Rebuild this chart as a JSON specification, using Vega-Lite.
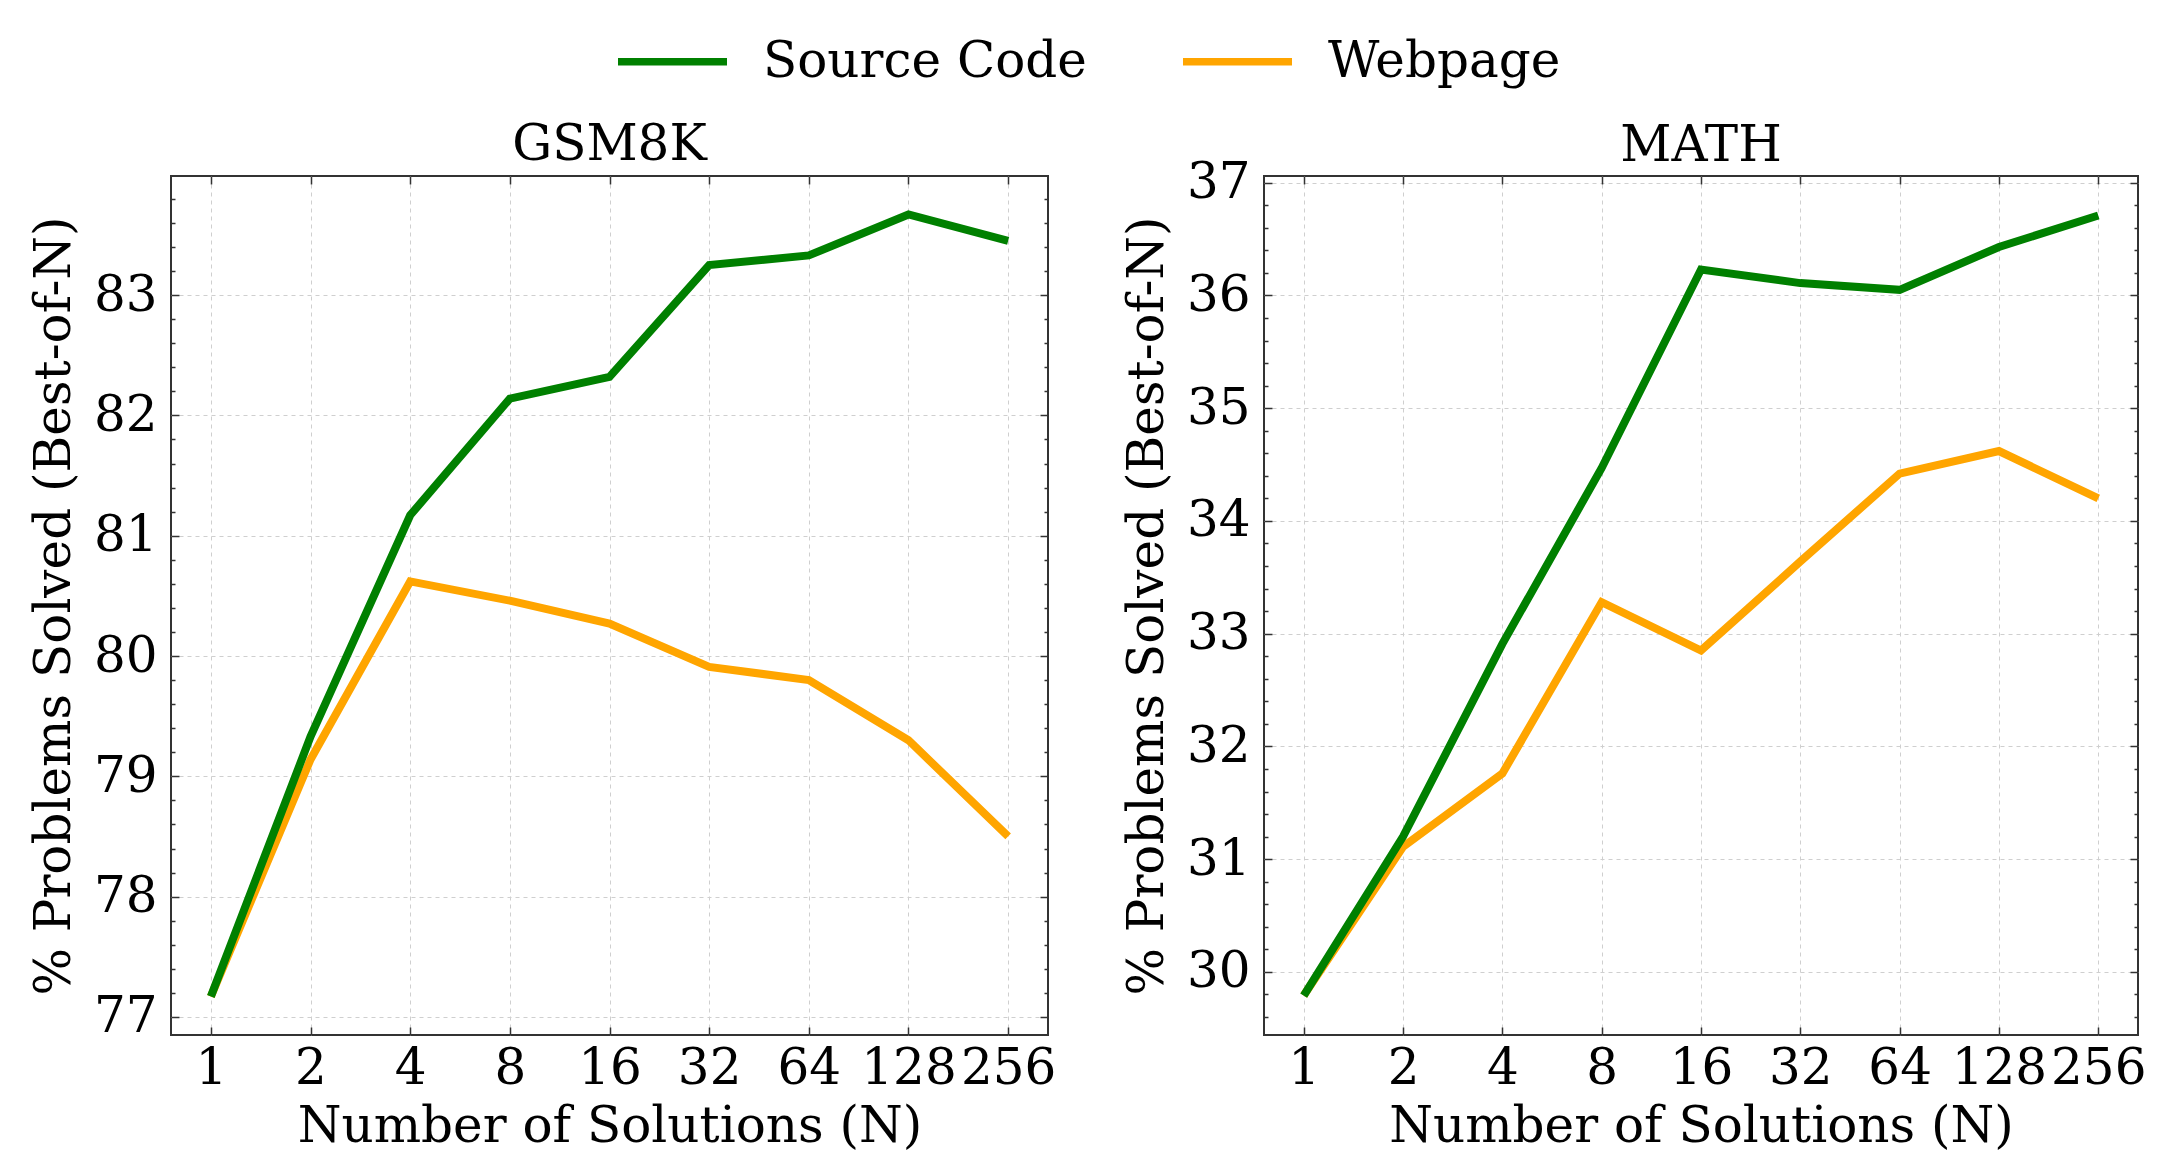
{
  "$schema": "https://vega.github.io/schema/vega-lite/v6.json",
  "padding": {"left": 28, "top": 3, "right": 20, "bottom": 10},
  "spacing": 64,
  "config": {
    "font": "DejaVu Serif, Liberation Serif, serif",
    "view": {"stroke": "#333", "strokeWidth": 2},
    "axis": {
      "labelFont": "DejaVu Serif, Liberation Serif, serif", "labelFontSize": 50, "labelColor": "#000",
      "titleFont": "DejaVu Serif, Liberation Serif, serif", "titleFontSize": 50, "titleFontWeight": "normal", "titleColor": "#000",
      "domain": false, "tickColor": "#333", "tickWidth": 1.5,
      "gridColor": "#cfcfcf", "gridDash": [4, 4], "gridWidth": 1
    },
    "title": {"font": "DejaVu Serif, Liberation Serif, serif", "fontSize": 50, "fontWeight": "normal", "color": "#000"},
    "legend": {
      "orient": "top", "direction": "horizontal", "title": null,
      "symbolType": "stroke", "symbolSize": 11881, "symbolStrokeWidth": 7.5,
      "labelFont": "DejaVu Serif, Liberation Serif, serif", "labelFontSize": 50, "labelColor": "#000", "labelLimit": 1000,
      "labelOffset": 32, "columnPadding": 81, "offset": 32,
      "layout": {"top": {"anchor": "middle"}}
    }
  },
  "datasets": {
    "gsm8k": [
      {"N": 1, "series": "Webpage", "v": 77.17},
      {"N": 2, "series": "Webpage", "v": 79.14},
      {"N": 4, "series": "Webpage", "v": 80.62},
      {"N": 8, "series": "Webpage", "v": 80.46},
      {"N": 16, "series": "Webpage", "v": 80.27},
      {"N": 32, "series": "Webpage", "v": 79.91},
      {"N": 64, "series": "Webpage", "v": 79.8},
      {"N": 128, "series": "Webpage", "v": 79.3},
      {"N": 256, "series": "Webpage", "v": 78.5},
      {"N": 1, "series": "Source Code", "v": 77.17},
      {"N": 2, "series": "Source Code", "v": 79.33},
      {"N": 4, "series": "Source Code", "v": 81.17},
      {"N": 8, "series": "Source Code", "v": 82.14},
      {"N": 16, "series": "Source Code", "v": 82.32},
      {"N": 32, "series": "Source Code", "v": 83.25},
      {"N": 64, "series": "Source Code", "v": 83.33},
      {"N": 128, "series": "Source Code", "v": 83.67},
      {"N": 256, "series": "Source Code", "v": 83.45}
    ],
    "math": [
      {"N": 1, "series": "Webpage", "v": 29.79},
      {"N": 2, "series": "Webpage", "v": 31.11},
      {"N": 4, "series": "Webpage", "v": 31.76},
      {"N": 8, "series": "Webpage", "v": 33.28},
      {"N": 16, "series": "Webpage", "v": 32.85},
      {"N": 32, "series": "Webpage", "v": 33.64},
      {"N": 64, "series": "Webpage", "v": 34.42},
      {"N": 128, "series": "Webpage", "v": 34.62},
      {"N": 256, "series": "Webpage", "v": 34.2},
      {"N": 1, "series": "Source Code", "v": 29.79},
      {"N": 2, "series": "Source Code", "v": 31.2},
      {"N": 4, "series": "Source Code", "v": 32.91},
      {"N": 8, "series": "Source Code", "v": 34.47},
      {"N": 16, "series": "Source Code", "v": 36.23},
      {"N": 32, "series": "Source Code", "v": 36.11},
      {"N": 64, "series": "Source Code", "v": 36.05},
      {"N": 128, "series": "Source Code", "v": 36.43},
      {"N": 256, "series": "Source Code", "v": 36.71}
    ]
  },
  "resolve": {"scale": {"y": "independent"}},
  "hconcat": [
    {
      "width": 877, "height": 859,
      "title": {"text": "GSM8K", "offset": 5},
      "data": {"name": "gsm8k"},
      "resolve": {"axis": {"x": "independent", "y": "independent"}},
      "encoding": {
        "x": {"field": "N", "type": "ordinal", "sort": "ascending", "scale": {"type": "point", "padding": 0.4}},
        "y": {"field": "v", "type": "quantitative", "scale": {"domain": [76.85, 83.99], "nice": false, "zero": false}}
      },
      "layer": [
        {
          "mark": {"type": "line", "strokeWidth": 8},
          "encoding": {
            "x": {"field": "N", "type": "ordinal", "axis": {"orient": "bottom", "title": "Number of Solutions (N)", "labelAngle": 0, "tickSize": -8, "labelPadding": 16, "titlePadding": 8, "grid": true}},
            "y": {"field": "v", "type": "quantitative", "axis": {"orient": "left", "title": "% Problems Solved (Best-of-N)", "values": [77, 78, 79, 80, 81, 82, 83], "tickSize": -8, "labelPadding": 22, "titlePadding": 14, "grid": true}},
            "color": {"field": "series", "type": "nominal", "scale": {"domain": ["Source Code", "Webpage"], "range": ["#008000", "#FFA500"]}}
          }
        },
        {
          "mark": {"type": "line", "opacity": 0},
          "encoding": {
            "x": {"field": "N", "type": "ordinal", "axis": {"orient": "top", "title": null, "labels": false, "tickSize": -8, "grid": false}},
            "y": {"field": "v", "type": "quantitative", "axis": {"orient": "right", "title": null, "labels": false, "values": [77, 78, 79, 80, 81, 82, 83], "tickSize": -8, "grid": false}},
            "detail": {"field": "series"}
          }
        },
        {
          "mark": {"type": "line", "opacity": 0},
          "encoding": {
            "x": {"field": "N", "type": "ordinal", "axis": null},
            "y": {"field": "v", "type": "quantitative", "axis": {"orient": "left", "title": null, "labels": false, "values": [77.2, 77.4, 77.6, 77.8, 78.2, 78.4, 78.6, 78.8, 79.2, 79.4, 79.6, 79.8, 80.2, 80.4, 80.6, 80.8, 81.2, 81.4, 81.6, 81.8, 82.2, 82.4, 82.6, 82.8, 83.2, 83.4, 83.6, 83.8], "tickSize": -4, "grid": false}},
            "detail": {"field": "series"}
          }
        },
        {
          "mark": {"type": "line", "opacity": 0},
          "encoding": {
            "x": {"field": "N", "type": "ordinal", "axis": null},
            "y": {"field": "v", "type": "quantitative", "axis": {"orient": "right", "title": null, "labels": false, "values": [77.2, 77.4, 77.6, 77.8, 78.2, 78.4, 78.6, 78.8, 79.2, 79.4, 79.6, 79.8, 80.2, 80.4, 80.6, 80.8, 81.2, 81.4, 81.6, 81.8, 82.2, 82.4, 82.6, 82.8, 83.2, 83.4, 83.6, 83.8], "tickSize": -4, "grid": false}},
            "detail": {"field": "series"}
          }
        }
      ]
    },
    {
      "width": 874, "height": 859,
      "title": {"text": "MATH", "offset": -13},
      "data": {"name": "math"},
      "resolve": {"axis": {"x": "independent", "y": "independent"}},
      "encoding": {
        "x": {"field": "N", "type": "ordinal", "sort": "ascending", "scale": {"type": "point", "padding": 0.4}},
        "y": {"field": "v", "type": "quantitative", "scale": {"domain": [29.44, 37.06], "nice": false, "zero": false}}
      },
      "layer": [
        {
          "mark": {"type": "line", "strokeWidth": 8},
          "encoding": {
            "x": {"field": "N", "type": "ordinal", "axis": {"orient": "bottom", "title": "Number of Solutions (N)", "labelAngle": 0, "tickSize": -8, "labelPadding": 16, "titlePadding": 8, "grid": true}},
            "y": {"field": "v", "type": "quantitative", "axis": {"orient": "left", "title": "% Problems Solved (Best-of-N)", "values": [30, 31, 32, 33, 34, 35, 36, 37], "tickSize": -8, "labelPadding": 22, "titlePadding": 14, "grid": true}},
            "color": {"field": "series", "type": "nominal", "scale": {"domain": ["Source Code", "Webpage"], "range": ["#008000", "#FFA500"]}}
          }
        },
        {
          "mark": {"type": "line", "opacity": 0},
          "encoding": {
            "x": {"field": "N", "type": "ordinal", "axis": {"orient": "top", "title": null, "labels": false, "tickSize": -8, "grid": false}},
            "y": {"field": "v", "type": "quantitative", "axis": {"orient": "right", "title": null, "labels": false, "values": [30, 31, 32, 33, 34, 35, 36, 37], "tickSize": -8, "grid": false}},
            "detail": {"field": "series"}
          }
        },
        {
          "mark": {"type": "line", "opacity": 0},
          "encoding": {
            "x": {"field": "N", "type": "ordinal", "axis": null},
            "y": {"field": "v", "type": "quantitative", "axis": {"orient": "left", "title": null, "labels": false, "values": [29.6, 29.8, 30.2, 30.4, 30.6, 30.8, 31.2, 31.4, 31.6, 31.8, 32.2, 32.4, 32.6, 32.8, 33.2, 33.4, 33.6, 33.8, 34.2, 34.4, 34.6, 34.8, 35.2, 35.4, 35.6, 35.8, 36.2, 36.4, 36.6, 36.8], "tickSize": -4, "grid": false}},
            "detail": {"field": "series"}
          }
        },
        {
          "mark": {"type": "line", "opacity": 0},
          "encoding": {
            "x": {"field": "N", "type": "ordinal", "axis": null},
            "y": {"field": "v", "type": "quantitative", "axis": {"orient": "right", "title": null, "labels": false, "values": [29.6, 29.8, 30.2, 30.4, 30.6, 30.8, 31.2, 31.4, 31.6, 31.8, 32.2, 32.4, 32.6, 32.8, 33.2, 33.4, 33.6, 33.8, 34.2, 34.4, 34.6, 34.8, 35.2, 35.4, 35.6, 35.8, 36.2, 36.4, 36.6, 36.8], "tickSize": -4, "grid": false}},
            "detail": {"field": "series"}
          }
        }
      ]
    }
  ]
}
